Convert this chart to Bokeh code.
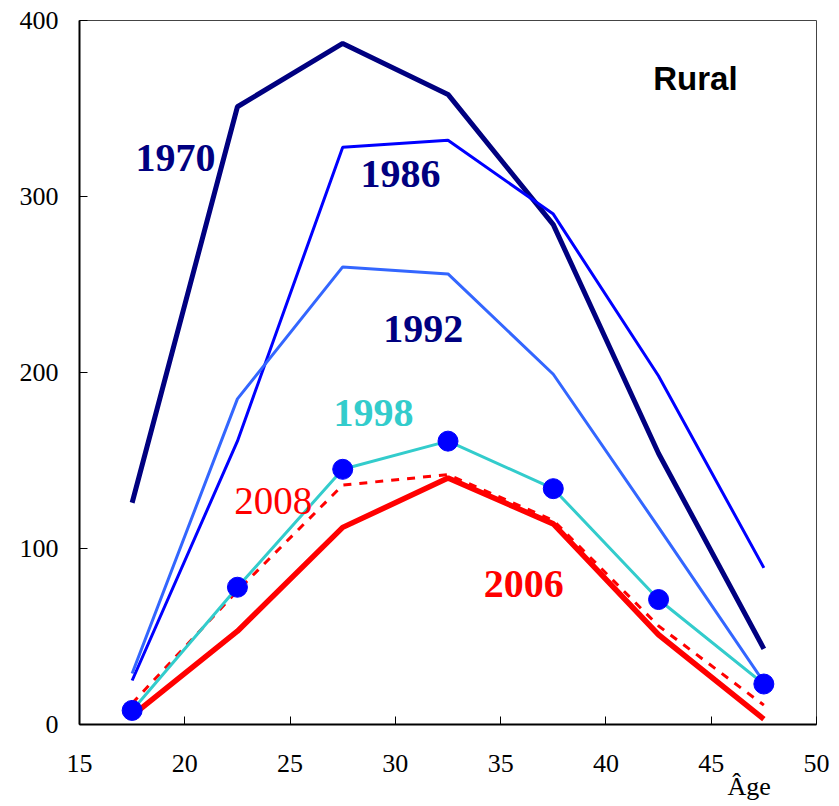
from bokeh.plotting import figure
from bokeh.models import Label, FixedTicker, LinearAxis, Range1d
from bokeh.embed import file_html
from bokeh.resources import INLINE

ages = [17.5, 22.5, 27.5, 32.5, 37.5, 42.5, 47.5]
y1970 = [126, 351, 387, 358, 284, 154, 43]
y1986 = [25, 161, 328, 332, 290, 198, 89]
y1992 = [29, 185, 260, 256, 199, 112, 24]
y1998 = [8, 78, 145, 161, 134, 71, 23]
y2006 = [5, 53, 112, 140, 114, 51, 3]
y2008 = [12, 76, 136, 142, 116, 56, 11]
x_ticks = [15, 20, 25, 30, 35, 40, 45, 50]
y_ticks = [0, 100, 200, 300, 400]
x_title = "Âge"

p = figure(width=839, height=806, output_backend="svg", toolbar_location=None,
           x_range=(15, 50), y_range=(0, 400),
           min_border_left=79, min_border_right=23, min_border_top=20, min_border_bottom=82)
p.background_fill_color = "white"
p.border_fill_color = "white"
p.outline_line_color = "#444444"
p.outline_line_width = 1
p.xgrid.visible = False
p.ygrid.visible = False

serif = "Liberation Serif"
for axes in (p.xaxis, p.yaxis):
    axes.major_label_text_font = serif
    axes.major_label_text_font_size = "26px"
    axes.major_label_text_color = "black"
    axes.axis_line_color = "black"
    axes.axis_line_width = 2
    axes.major_tick_in = 8
    axes.major_tick_out = 0
    axes.major_tick_line_color = "black"
    axes.minor_tick_line_color = None
p.xaxis.ticker = FixedTicker(ticks=x_ticks)
p.yaxis.ticker = FixedTicker(ticks=y_ticks)
p.xaxis.major_label_standoff = 30
p.yaxis.major_label_standoff = 21

# axis title "Âge" placed near the right end, below the tick labels
p.extra_x_ranges = {"title": Range1d(150, 500)}
title_axis = LinearAxis(x_range_name="title", ticker=FixedTicker(ticks=[468]),
                        major_label_overrides={468: x_title},
                        axis_line_color=None, major_tick_line_color=None,
                        minor_tick_line_color=None, major_tick_in=0, major_tick_out=0,
                        major_label_standoff=-3,
                        major_label_text_font=serif, major_label_text_font_size="26px",
                        major_label_text_color="black")
p.add_layout(title_axis, "below")

p.line(ages, y1970, line_color="#000080", line_width=5)
p.line(ages, y1986, line_color="#0000ff", line_width=3)
p.line(ages, y1992, line_color="#3366ff", line_width=3)
p.line(ages, y2006, line_color="#ff0000", line_width=5.5)
p.line(ages, y2008, line_color="#ff0000", line_width=3, line_dash="8 8")
p.line(ages, y1998, line_color="#33cccc", line_width=3)
p.scatter(ages, y1998, size=20, fill_color="#0000ff", line_color="#0000ff")

def lab(x, y, t, color, bold=True, font=serif, size="40px"):
    p.add_layout(Label(x=x, y=y, text=t, text_color=color, text_font=font,
                       text_font_size=size, text_font_style="bold" if bold else "normal",
                       text_align="center", text_baseline="middle"))

lab(19.56, 322, "1970", "#000080")
lab(30.24, 313, "1986", "#000080")
lab(31.33, 225, "1992", "#000080")
lab(28.96, 177, "1998", "#33cccc")
lab(24.2, 127, "2008", "#ff0000", bold=False, size="39px")
lab(36.1, 80, "2006", "#ff0000")
lab(44.25, 367, "Rural", "black", font="Liberation Sans", size="33px")

open("out.html", "w").write(file_html(p, INLINE))
